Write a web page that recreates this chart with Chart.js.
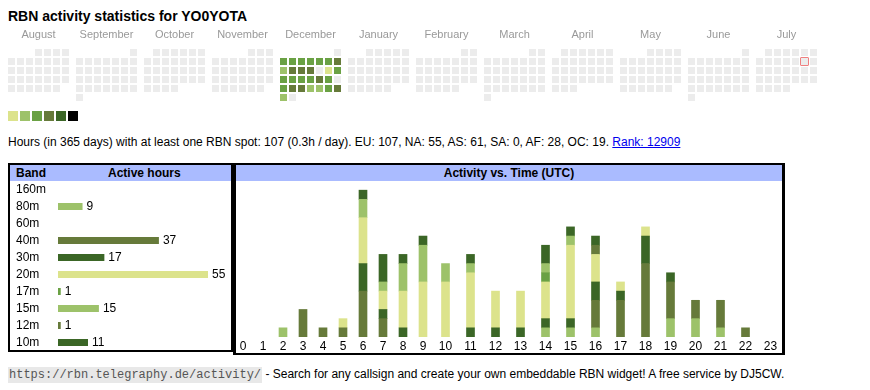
<!DOCTYPE html>
<html><head><meta charset="utf-8">
<script src="https://cdn.jsdelivr.net/npm/chart.js@4.4.1/dist/chart.umd.min.js"></script>
<style>
body{margin:0;background:#fff;font-family:"Liberation Sans",Arial,sans-serif;color:#000;width:870px;height:390px;overflow:hidden;position:relative;}
.abs{position:absolute;}
#title{left:8px;top:8px;font-size:14px;font-weight:bold;line-height:16px;white-space:nowrap;}
#legend{left:8px;top:111px;height:10px;}
#legend span{display:inline-block;width:10px;height:10px;margin-right:2px;vertical-align:top;}
#info{left:8px;top:135px;font-size:12px;line-height:14px;white-space:nowrap;}
#info a{color:#00e;text-decoration:underline;}
.box{box-sizing:border-box;border:2px solid #000;background:#fff;}
.hdr{position:absolute;left:0;right:0;top:0;height:16px;background:#aabbff;font-size:12px;font-weight:bold;line-height:16px;}
#footer{left:8px;top:367px;font-size:12px;line-height:15px;white-space:nowrap;}
#footer code{font-family:"Liberation Mono","DejaVu Sans Mono",monospace;font-size:12px;background:#e8e8e8;color:#555;padding:1px 1px;}
</style></head><body>
<div id="title" class="abs">RBN activity statistics for YO0YOTA</div>
<div class="abs" style="left:0;top:20px;width:870px;height:90px;"><canvas id="cal" width="870" height="90"></canvas></div>
<div id="legend" class="abs"></div>
<div id="info" class="abs">Hours (in 365 days) with at least one RBN spot: 107 (0.3h / day). EU: 107, NA: 55, AS: 61, SA: 0, AF: 28, OC: 19. <a href="#">Rank: 12909</a></div>

<div class="abs box" style="left:8px;top:163px;width:225px;height:189px;">
  <div class="hdr"><span style="position:absolute;left:6px;">Band</span><span style="position:absolute;left:98px;width:66px;text-align:center;white-space:nowrap;">Active hours</span></div>
</div>
<div class="abs box" style="left:233px;top:163px;width:552px;height:192px;border-left-width:3px;border-right-width:3px;">
  <div class="hdr" style="text-align:center;">Activity vs. Time (UTC)</div>
</div>
<div class="abs" style="left:10px;top:181px;width:221px;height:170px;"><canvas id="bands" width="221" height="170"></canvas></div>
<div class="abs" style="left:233px;top:181px;width:550px;height:171px;"><canvas id="act" width="550" height="171"></canvas></div>

<div id="footer" class="abs"><code>https://rbn.telegraphy.de/activity/</code> - Search for any callsign and create your own embeddable RBN widget! A free service by DJ5CW.</div>

<script>
// ---------- data ----------
const months = ['August','September','October','November','December','January','February','March','April','May','June','July'];
const startYear = 2024, startMonthIndex = 7; // August 2024
const decemberLevels = [0,3,3,3,3,3,3,4,2,4,4,4,0,1,3,3,3,3,3,4,3,0,3,4,4,2,2,3,4,2,0];
const monthLevels = { December: decemberLevels };
const highlightMonth = 'July', highlightDay = 12;
const palette = ['#ececec','#dce38c','#9dc26a','#6aa144','#667a3a','#3b6626','#000000'];

const bands = ['160m','80m','60m','40m','30m','20m','17m','15m','12m','10m'];
const bandHours = [0,9,0,37,17,55,1,15,1,11];
const bandColors = ['#dce38c','#9dc26a','#6aa144','#667a3a','#3b6626','#dce38c','#6aa144','#9dc26a','#667a3a','#3b6626'];

const hourLabels = ['0','1','2','3','4','5','6','7','8','9','10','11','12','13','14','15','16','17','18','19','20','21','22','23'];
const hours160m = [0,0,0,0,0,0,0,0,0,0,0,0,0,0,0,0,0,0,0,0,0,0,0,0];
const hours80m  = [0,0,1,0,0,0,0,0,0,0,0,0,0,0,1,1,1,0,0,2,2,1,0,0];
const hours60m  = [0,0,0,0,0,0,0,0,0,0,0,0,0,0,0,0,0,0,0,0,0,0,0,0];
const hours40m  = [0,0,0,3,1,1,5,2,0,0,0,0,0,0,0,0,3,4,8,4,2,3,1,0];
const hours30m  = [0,0,0,0,0,0,3,1,1,0,0,1,1,1,1,1,2,1,3,1,0,0,0,0];
const hours20m  = [0,0,0,0,0,1,5,2,4,6,6,6,4,4,4,8,3,1,1,0,0,0,0,0];
const hours17m  = [0,0,0,0,0,0,0,0,0,0,0,0,0,0,1,0,0,0,0,0,0,0,0,0];
const hours15m  = [0,0,0,0,0,0,2,1,3,4,2,1,0,0,1,1,0,0,0,0,0,0,0,0];
const hours12m  = [0,0,0,0,0,0,0,0,0,0,0,0,0,0,0,0,1,0,0,0,0,0,0,0];
const hours10m  = [0,0,0,0,0,0,1,3,1,1,0,1,0,0,2,1,1,0,0,0,0,0,0,0];
const hourSeries = [hours160m,hours80m,hours60m,hours40m,hours30m,hours20m,hours17m,hours15m,hours12m,hours10m];

// ---------- setup ----------
Chart.defaults.font.family = '"Liberation Sans", Arial, sans-serif';
Chart.defaults.animation = false;
Chart.defaults.events = [];
Chart.defaults.plugins.legend.display = false;
Chart.defaults.plugins.tooltip.enabled = false;

const legendEl = document.getElementById('legend');
palette.slice(1).forEach(c => { const s = document.createElement('span'); s.style.background = c; legendEl.appendChild(s); });

// ---------- calendar ----------
const MONTH_PITCH = 68, CELL_PITCH = 9;
const calPoints = [];
let hlPoint = null;
months.forEach((name, m) => {
  const y = startYear + Math.floor((startMonthIndex + m) / 12), mo = (startMonthIndex + m) % 12;
  const nDays = new Date(y, mo + 1, 0).getDate();
  const first = (new Date(y, mo, 1).getDay() + 6) % 7;
  const levels = monthLevels[name] || [];
  for (let d = 1; d <= nDays; d++) {
    const k = first + d - 1;
    const p = { x: m * MONTH_PITCH + (k % 7) * CELL_PITCH + 3.5, y: Math.floor(k / 7) * CELL_PITCH + 3.5, level: levels[d - 1] || 0 };
    calPoints.push(p);
    if (name === highlightMonth && d === highlightDay) hlPoint = p;
  }
});
const monthLabelPlugin = {
  id: 'monthLabels',
  afterDraw(chart) {
    const { ctx, scales } = chart;
    ctx.save();
    ctx.font = '11px "Liberation Sans", Arial, sans-serif';
    ctx.fillStyle = '#999';
    ctx.textAlign = 'center';
    ctx.textBaseline = 'middle';
    months.forEach((name, m) => {
      ctx.fillText(name, scales.x.getPixelForValue(m * MONTH_PITCH + 30.5), scales.y.getPixelForValue(-14));
    });
    ctx.restore();
  }
};
new Chart(document.getElementById('cal'), {
  type: 'scatter',
  data: { datasets: [
    { data: calPoints, pointStyle: 'rect', pointRadius: 7 / Math.SQRT2, pointBorderWidth: 0, borderWidth: 0,
      pointBackgroundColor: c => palette[c.raw ? c.raw.level : 0] },
    { data: [hlPoint], pointStyle: 'rect', pointRadius: 6.5 / Math.SQRT2, pointBackgroundColor: '#ececec',
      pointBorderColor: '#e00000', pointBorderWidth: 1.5 }
  ] },
  options: {
    responsive: false, maintainAspectRatio: false,
    layout: { padding: 0, autoPadding: false },
    scales: {
      x: { type: 'linear', display: false, min: -8, max: 862 },
      y: { type: 'linear', display: false, min: -29, max: 61, reverse: true }
    }
  },
  plugins: [monthLabelPlugin]
});

// ---------- bands ----------
const valueLabelPlugin = {
  id: 'valueLabels',
  afterDatasetsDraw(chart) {
    const { ctx } = chart;
    const meta = chart.getDatasetMeta(0);
    ctx.save();
    ctx.font = '12px "Liberation Sans", Arial, sans-serif';
    ctx.fillStyle = '#000';
    ctx.textBaseline = 'middle';
    ctx.textAlign = 'left';
    meta.data.forEach((el, i) => {
      const v = bandHours[i];
      if (v > 0) ctx.fillText(String(v), el.x + 4, el.y + 0.5);
    });
    ctx.restore();
  }
};
new Chart(document.getElementById('bands'), {
  type: 'bar',
  data: { labels: bands, datasets: [{ data: bandHours.map(v => v > 0 ? v : null), backgroundColor: bandColors, barThickness: 7, borderWidth: 0, inflateAmount: 0 }] },
  options: {
    indexAxis: 'y', responsive: false, maintainAspectRatio: false,
    layout: { padding: { left: 6, right: 23, top: 0, bottom: 0 }, autoPadding: false },
    scales: {
      y: { type: 'category', grid: { display: false, drawTicks: false }, border: { display: false },
           ticks: { crossAlign: 'far', color: '#000', font: { size: 12 }, padding: 0, autoSkip: false },
           afterFit: s => { s.width = 42; s.paddingTop = 0; s.paddingBottom = 0; } },
      x: { display: false, min: 0, max: Math.max(...bandHours) }
    }
  },
  plugins: [valueLabelPlugin]
});

// ---------- activity vs time ----------
const colWidths = hourLabels.map(l => 15 + 5 * l.length);
const centers = [];
let acc = 0;
colWidths.forEach(w => { centers.push(acc + w / 2); acc += w; });
const totalWidth = acc;
new Chart(document.getElementById('act'), {
  type: 'bar',
  data: { datasets: bands.map((b, i) => ({
    label: b,
    data: hourSeries[i].map((v, h) => ({ x: centers[h], y: v })).filter(p => p.y > 0),
    backgroundColor: bandColors[i], barThickness: 8, borderWidth: 0
  })) },
  options: {
    responsive: false, maintainAspectRatio: false,
    layout: { padding: 0, autoPadding: false },
    scales: {
      x: { type: 'linear', min: 0, max: totalWidth, stacked: true, offset: false,
           grid: { display: false, drawTicks: false, offset: false }, border: { display: false },
           ticks: { autoSkip: false, maxRotation: 0, padding: 2, color: '#000', font: { size: 12 },
                    callback: (v, i) => hourLabels[i] },
           afterBuildTicks: s => { s.ticks = centers.map(c => ({ value: c })); },
           afterFit: s => { s.height = 15; s.paddingLeft = 0; s.paddingRight = 0; } },
      y: { display: false, stacked: true, min: 0, max: 17 }
    }
  }
});
</script>
</body></html>
